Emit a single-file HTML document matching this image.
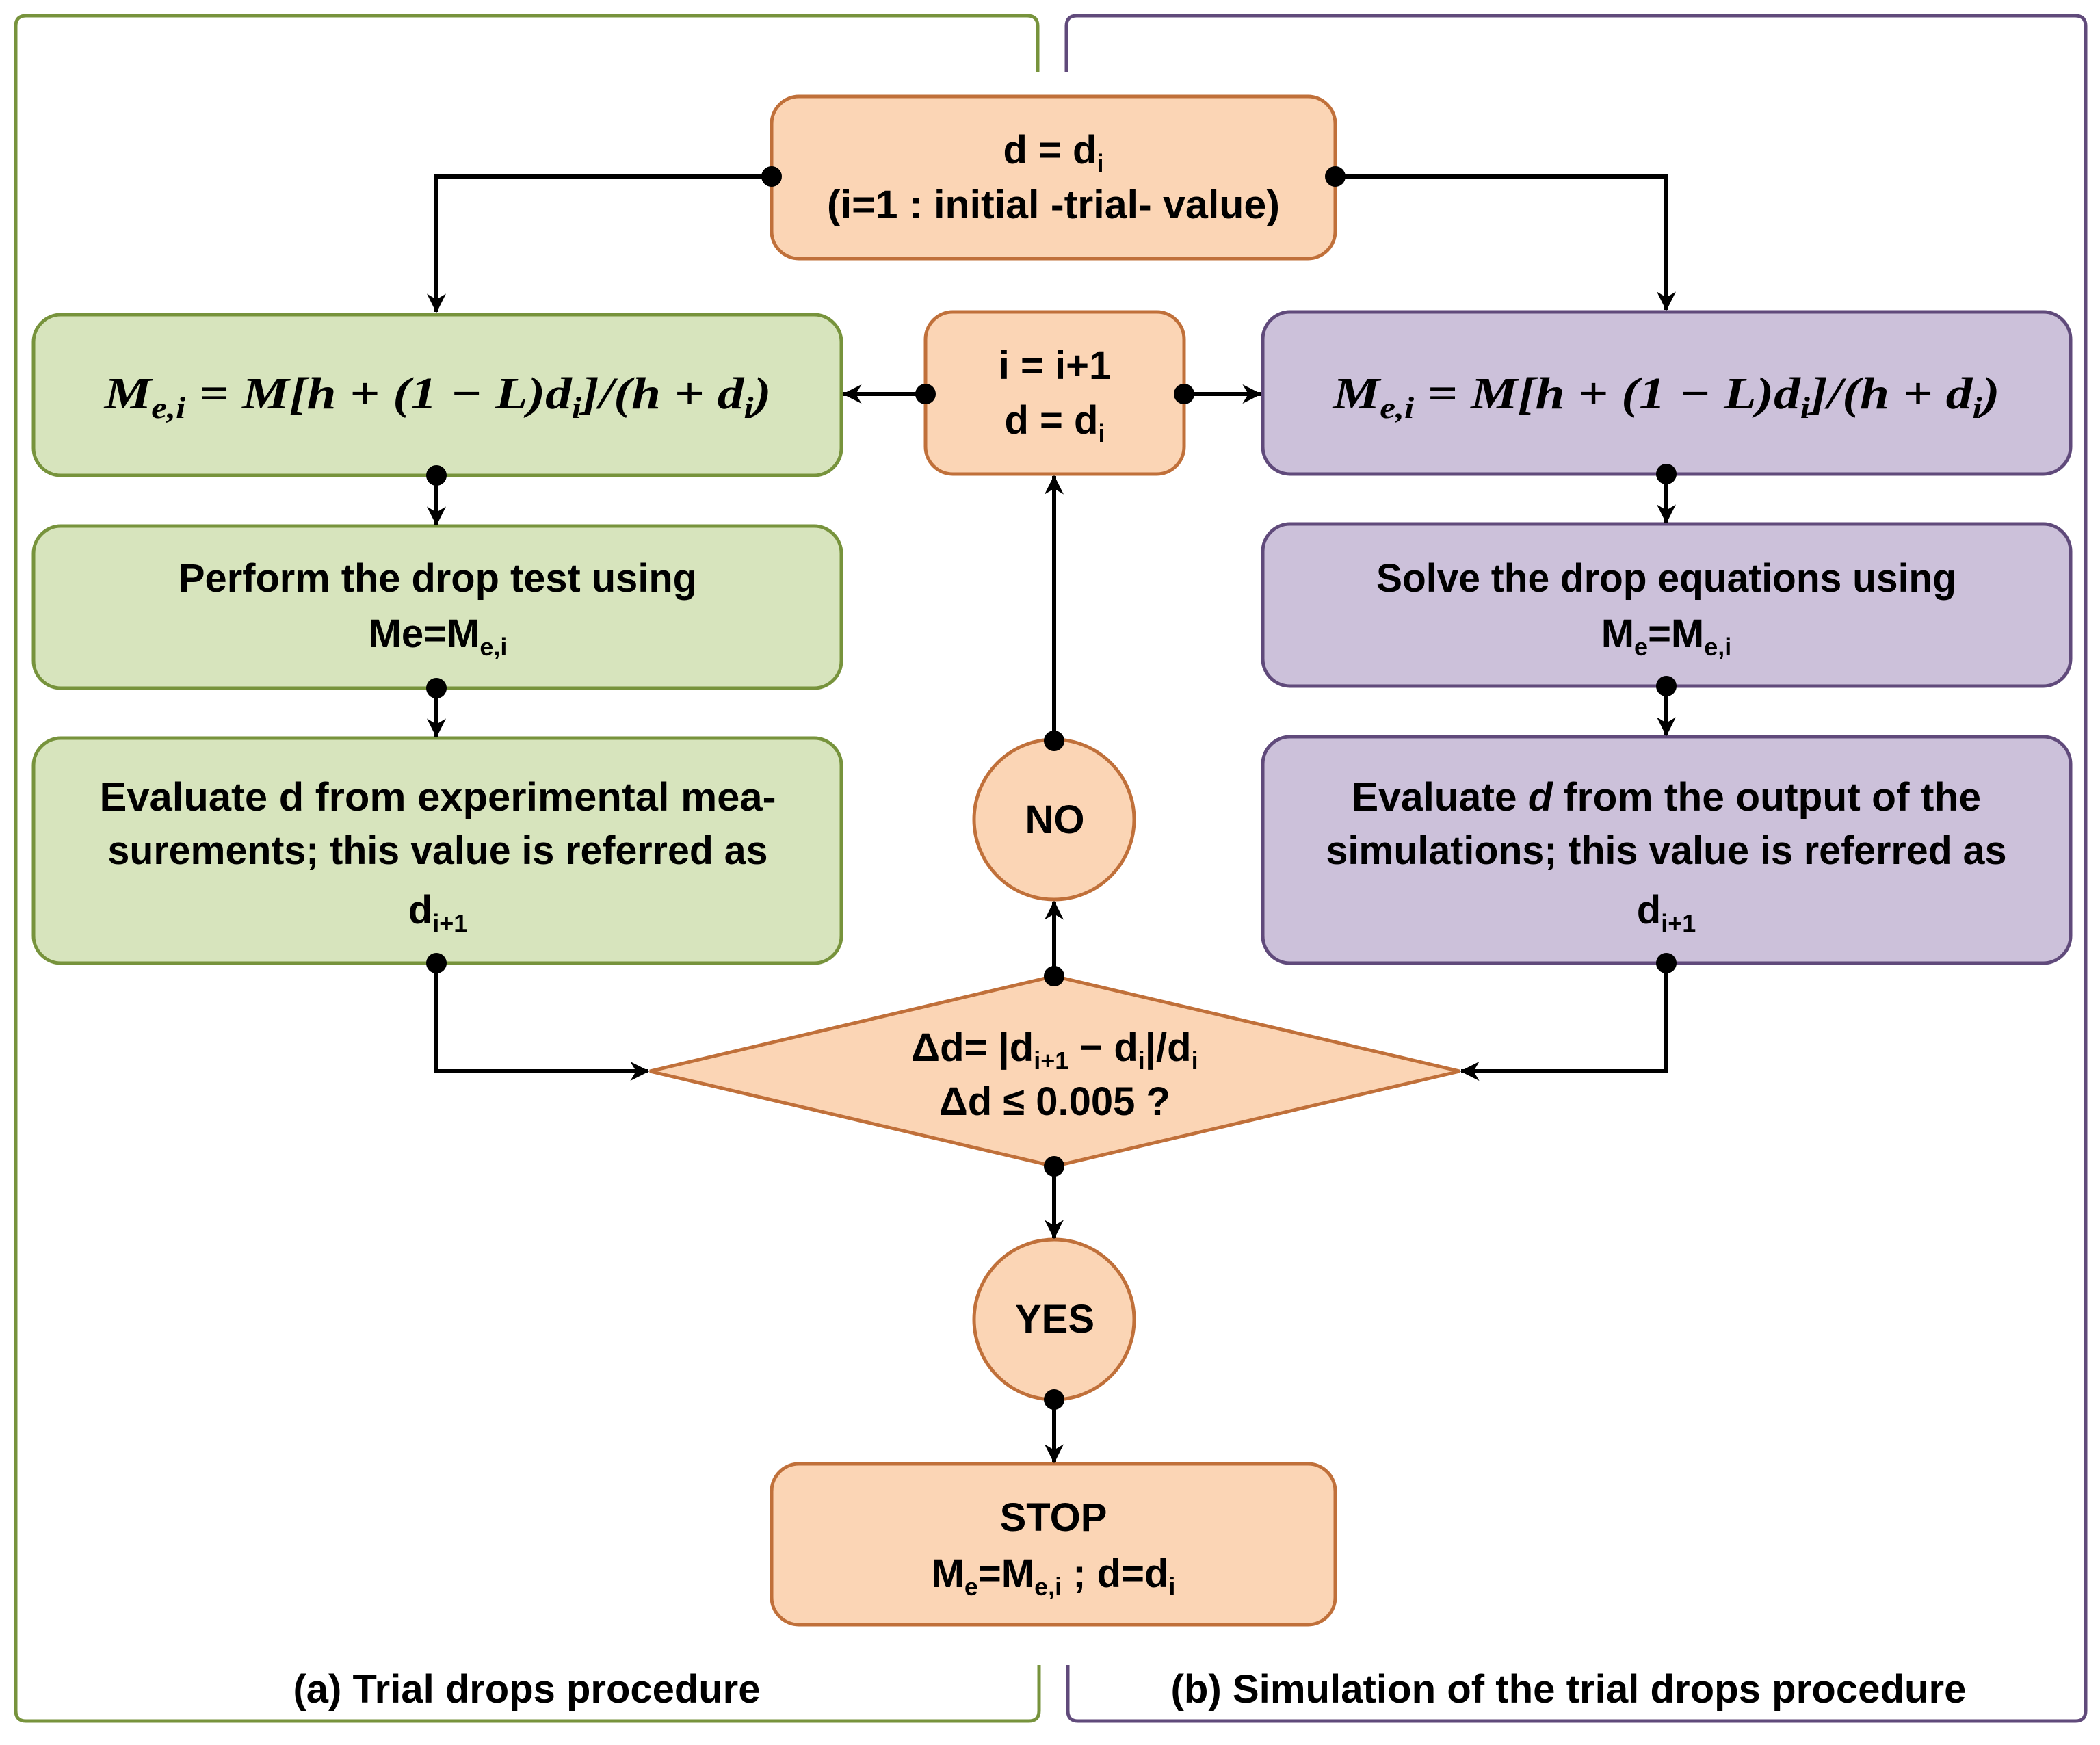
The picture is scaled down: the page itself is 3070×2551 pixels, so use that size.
<!DOCTYPE html>
<html><head><meta charset="utf-8"><style>
html,body{margin:0;padding:0;background:#fff}
svg{display:block}
text{font-family:"Liberation Sans",sans-serif;font-weight:bold;fill:#000}
.f{font-family:"Liberation Serif",serif;font-style:italic;font-weight:bold}
</style></head><body>
<svg width="3070" height="2551" viewBox="0 0 3070 2551" xmlns="http://www.w3.org/2000/svg">
<defs>
<marker id="a" viewBox="0 0 20 20" refX="19" refY="10" markerWidth="28" markerHeight="28" markerUnits="userSpaceOnUse" orient="auto">
<path d="M0,0 L20,10 L0,20 L6,10 Z" fill="#000"/></marker>
</defs>
<g fill="none" stroke-width="5">
<path d="M1517,105 V38 Q1517,23 1502,23 H38 Q23,23 23,38 V2501 Q23,2516 38,2516 H1504 Q1519,2516 1519,2501 V2434" stroke="#77933c"/>
<path d="M1559,105 V38 Q1559,23 1574,23 H3034 Q3049,23 3049,38 V2501 Q3049,2516 3034,2516 H1576 Q1561,2516 1561,2501 V2434" stroke="#604a7b"/>
</g>
<g stroke-width="5">
<rect x="1128" y="141" width="824" height="237" rx="40" fill="#fbd5b5" stroke="#c0703a"/>
<rect x="1353" y="456" width="378" height="237" rx="40" fill="#fbd5b5" stroke="#c0703a"/>
<rect x="1128" y="2140" width="824" height="235" rx="40" fill="#fbd5b5" stroke="#c0703a"/>
<rect x="49" y="460" width="1181" height="235" rx="40" fill="#d7e4bd" stroke="#77933c"/>
<rect x="49" y="769" width="1181" height="237" rx="40" fill="#d7e4bd" stroke="#77933c"/>
<rect x="49" y="1079" width="1181" height="329" rx="40" fill="#d7e4bd" stroke="#77933c"/>
<rect x="1846" y="456" width="1181" height="237" rx="40" fill="#ccc1da" stroke="#604a7b"/>
<rect x="1846" y="766" width="1181" height="237" rx="40" fill="#ccc1da" stroke="#604a7b"/>
<rect x="1846" y="1077" width="1181" height="331" rx="40" fill="#ccc1da" stroke="#604a7b"/>
<polygon points="950,1566 1541,1427 2134,1566 1541,1705" fill="#fbd5b5" stroke="#c0703a"/>
<circle cx="1541" cy="1198" r="117" fill="#fbd5b5" stroke="#c0703a"/>
<circle cx="1541" cy="1929" r="117" fill="#fbd5b5" stroke="#c0703a"/>
</g>
<g stroke="#000" stroke-width="6" fill="none" marker-end="url(#a)">
<path d="M1128,258 H638 V456"/>
<path d="M1952,258 H2436 V453"/>
<path d="M1353,576 H1233"/>
<path d="M1731,576 H1843"/>
<path d="M638,695 V767"/>
<path d="M638,1006 V1077"/>
<path d="M2436,693 V764"/>
<path d="M2436,1003 V1075"/>
<path d="M638,1408 V1566 H948"/>
<path d="M2436,1408 V1566 H2136"/>
<path d="M1541,1427 V1318"/>
<path d="M1541,1083 V696"/>
<path d="M1541,1705 V1810"/>
<path d="M1541,2046 V2138"/>
</g>
<g fill="#000">
<circle cx="1128" cy="258" r="15"/><circle cx="1952" cy="258" r="15"/>
<circle cx="1353" cy="576" r="15"/><circle cx="1731" cy="576" r="15"/>
<circle cx="638" cy="695" r="15"/><circle cx="638" cy="1006" r="15"/><circle cx="638" cy="1408" r="15"/>
<circle cx="2436" cy="693" r="15"/><circle cx="2436" cy="1003" r="15"/><circle cx="2436" cy="1408" r="15"/>
<circle cx="1541" cy="1427" r="15"/><circle cx="1541" cy="1083" r="15"/>
<circle cx="1541" cy="1705" r="15"/><circle cx="1541" cy="2046" r="15"/>
</g>
<g text-anchor="middle" font-size="58">
<text x="1540" y="239">d = d<tspan font-size="36" dy="12">i</tspan></text>
<text x="1540" y="319" textLength="662" lengthAdjust="spacingAndGlyphs">(i=1 : initial -trial- value)</text>
<text x="1542" y="554">i = i+1</text>
<text x="1542" y="634">d = d<tspan font-size="36" dy="12">i</tspan></text>
<text class="f" x="640" y="597" font-size="66" textLength="975" lengthAdjust="spacingAndGlyphs">M<tspan font-size="44" dy="14">e,i</tspan><tspan dy="-14"> = M[h + (1 − L)d</tspan><tspan font-size="44" dy="14">i</tspan><tspan dy="-14">]/(h + d</tspan><tspan font-size="44" dy="14">i</tspan><tspan dy="-14">)</tspan></text>
<text class="f" x="2436" y="597" font-size="66" textLength="975" lengthAdjust="spacingAndGlyphs">M<tspan font-size="44" dy="14">e,i</tspan><tspan dy="-14"> = M[h + (1 − L)d</tspan><tspan font-size="44" dy="14">i</tspan><tspan dy="-14">]/(h + d</tspan><tspan font-size="44" dy="14">i</tspan><tspan dy="-14">)</tspan></text>
<text x="640" y="865" textLength="758" lengthAdjust="spacingAndGlyphs">Perform the drop test using</text>
<text x="640" y="946">Me=M<tspan font-size="36" dy="12">e,i</tspan></text>
<text x="2436" y="865" textLength="848" lengthAdjust="spacingAndGlyphs">Solve the drop equations using</text>
<text x="2436" y="946">M<tspan font-size="36" dy="12">e</tspan><tspan dy="-12">=M</tspan><tspan font-size="36" dy="12">e,i</tspan></text>
<text x="640" y="1185" textLength="989" lengthAdjust="spacingAndGlyphs">Evaluate d  from experimental mea-</text>
<text x="640" y="1263" textLength="965" lengthAdjust="spacingAndGlyphs">surements; this value is referred as</text>
<text x="640" y="1350">d<tspan font-size="36" dy="12">i+1</tspan></text>
<text x="2436" y="1185" textLength="920" lengthAdjust="spacingAndGlyphs">Evaluate <tspan font-style="italic">d</tspan> from the output of the</text>
<text x="2436" y="1263" textLength="995" lengthAdjust="spacingAndGlyphs">simulations; this value is referred as</text>
<text x="2436" y="1350">d<tspan font-size="36" dy="12">i+1</tspan></text>
<text x="1542" y="1218">NO</text>
<text x="1542" y="1948">YES</text>
<text x="1542" y="1551">Δd= |d<tspan font-size="36" dy="12">i+1</tspan><tspan dy="-12"> − d</tspan><tspan font-size="36" dy="12">i</tspan><tspan dy="-12">|/d</tspan><tspan font-size="36" dy="12">i</tspan></text>
<text x="1542" y="1630">Δd ≤ 0.005 ?</text>
<text x="1540" y="2238">STOP</text>
<text x="1540" y="2320">M<tspan font-size="36" dy="12">e</tspan><tspan dy="-12">=M</tspan><tspan font-size="36" dy="12">e,i</tspan><tspan dy="-12"> ; d=d</tspan><tspan font-size="36" dy="12">i</tspan></text>
<text x="770" y="2489" textLength="683" lengthAdjust="spacingAndGlyphs">(a) Trial drops procedure</text>
<text x="2293" y="2489" textLength="1163" lengthAdjust="spacingAndGlyphs">(b) Simulation of the trial drops procedure</text>
</g>
</svg>
</body></html>
